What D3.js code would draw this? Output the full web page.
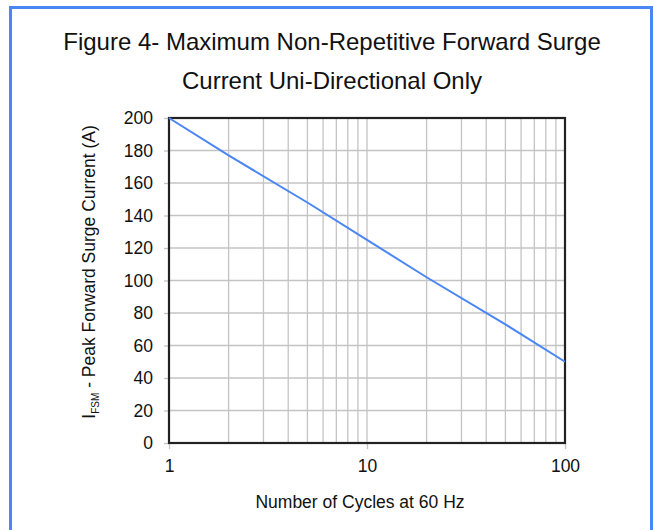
<!DOCTYPE html>
<html>
<head>
<meta charset="utf-8">
<script src="https://cdn.jsdelivr.net/npm/d3@7"></script>
<style>
  body { margin:0; background:#fff; }
  text { font-family: "Liberation Sans", Arial, sans-serif; fill:#111; }
</style>
</head>
<body>
<div id="chart"></div>
<script>
// data
var cycles  = [1, 2, 5, 10, 20, 50, 100];
var current = [200, 177, 148, 125, 102, 73, 50];
var yTicks  = [0, 20, 40, 60, 80, 100, 120, 140, 160, 180, 200];
var xLabels = [1, 10, 100];
var titleLines = ["Figure 4- Maximum Non-Repetitive Forward Surge", "Current Uni-Directional Only"];

var W=654, H=530;
var margin={top:118, right:89, bottom:87, left:169};
var w=W-margin.left-margin.right, h=H-margin.top-margin.bottom;

var svg=d3.select("#chart").append("svg")
    .attr("width", W)
    .attr("height", H);

// blue frame (open at bottom)
svg.append("path")
   .attr("d", "M10.5,"+(H+5)+" V7.5 H651.5 V"+(H+5))
   .attr("fill","none")
   .attr("stroke","#4a86f5")
   .attr("stroke-width",3);

svg.selectAll(".title")
   .data(titleLines)
   .enter()
   .append("text")
   .attr("class","title")
   .attr("x", 332)
   .attr("y", function(d,i){ return 50+i*39; })
   .attr("text-anchor","middle")
   .style("font-size","24px")
   .text(function(d){ return d; });

var g=svg.append("g")
   .attr("transform","translate("+margin.left+","+margin.top+")");

var xScale=d3.scaleLog().domain([1,100]).range([0,w]);
var yScale=d3.scaleLinear().domain([0,200]).range([h,0]);

// minor / major vertical grid
var xGrid=[];
for (var dec=1; dec<100; dec*=10){
  for (var k=1; k<10; k++) xGrid.push(dec*k);
}
xGrid.push(100);

g.append("g")
 .selectAll("line")
 .data(xGrid)
 .enter()
 .append("line")
 .attr("x1", function(d){ return xScale(d); })
 .attr("x2", function(d){ return xScale(d); })
 .attr("y1", 0)
 .attr("y2", h)
 .attr("stroke","#c4c4c4")
 .attr("stroke-width",1.3);

g.append("g")
 .selectAll("line")
 .data(yTicks)
 .enter()
 .append("line")
 .attr("x1", 0)
 .attr("x2", w)
 .attr("y1", function(d){ return yScale(d); })
 .attr("y2", function(d){ return yScale(d); })
 .attr("stroke","#c4c4c4")
 .attr("stroke-width",1.3);

// axes
var yAxis=d3.axisLeft(yScale).tickValues(yTicks).tickSize(5).tickPadding(11);
var xAxis=d3.axisBottom(xScale).tickValues(xLabels).tickFormat(d3.format("d")).tickSize(6).tickPadding(11);

var ya=g.append("g").attr("class","y axis").call(yAxis);
var xa=g.append("g").attr("class","x axis")
  .attr("transform","translate(0,"+h+")").call(xAxis);

[ya, xa].forEach(function(a){
  a.select(".domain").remove();
  a.selectAll(".tick line").attr("stroke","#c4c4c4").attr("stroke-width",1.3);
  a.selectAll(".tick text").style("font-size","17.5px").style("font-family","'Liberation Sans', Arial, sans-serif").attr("fill","#111");
});

// frame
g.append("rect")
 .attr("x",0).attr("y",0)
 .attr("width",w).attr("height",h)
 .attr("fill","none")
 .attr("stroke","#222")
 .attr("stroke-width",2.2);

// series
var line=d3.line()
  .x(function(d){ return xScale(d[0]); })
  .y(function(d){ return yScale(d[1]); });

g.append("path")
 .datum(cycles.map(function(c,i){ return [c, current[i]]; }))
 .attr("fill","none")
 .attr("stroke","#4a86f5")
 .attr("stroke-width",2)
 .attr("d", line);

// axis titles
svg.append("text")
   .attr("x", 360)
   .attr("y", 508)
   .attr("text-anchor","middle")
   .style("font-size","17.5px")
   .text("Number of Cycles at 60 Hz");

var yl=svg.append("text")
   .attr("transform","translate(95,272) rotate(-90)")
   .attr("text-anchor","middle")
   .style("font-size","17.5px");
yl.append("tspan").text("I");
yl.append("tspan").attr("dy",4).style("font-size","10px").text("FSM");
yl.append("tspan").attr("dy",-4).text(" - Peak Forward Surge Current (A)");
</script>
</body>
</html>
